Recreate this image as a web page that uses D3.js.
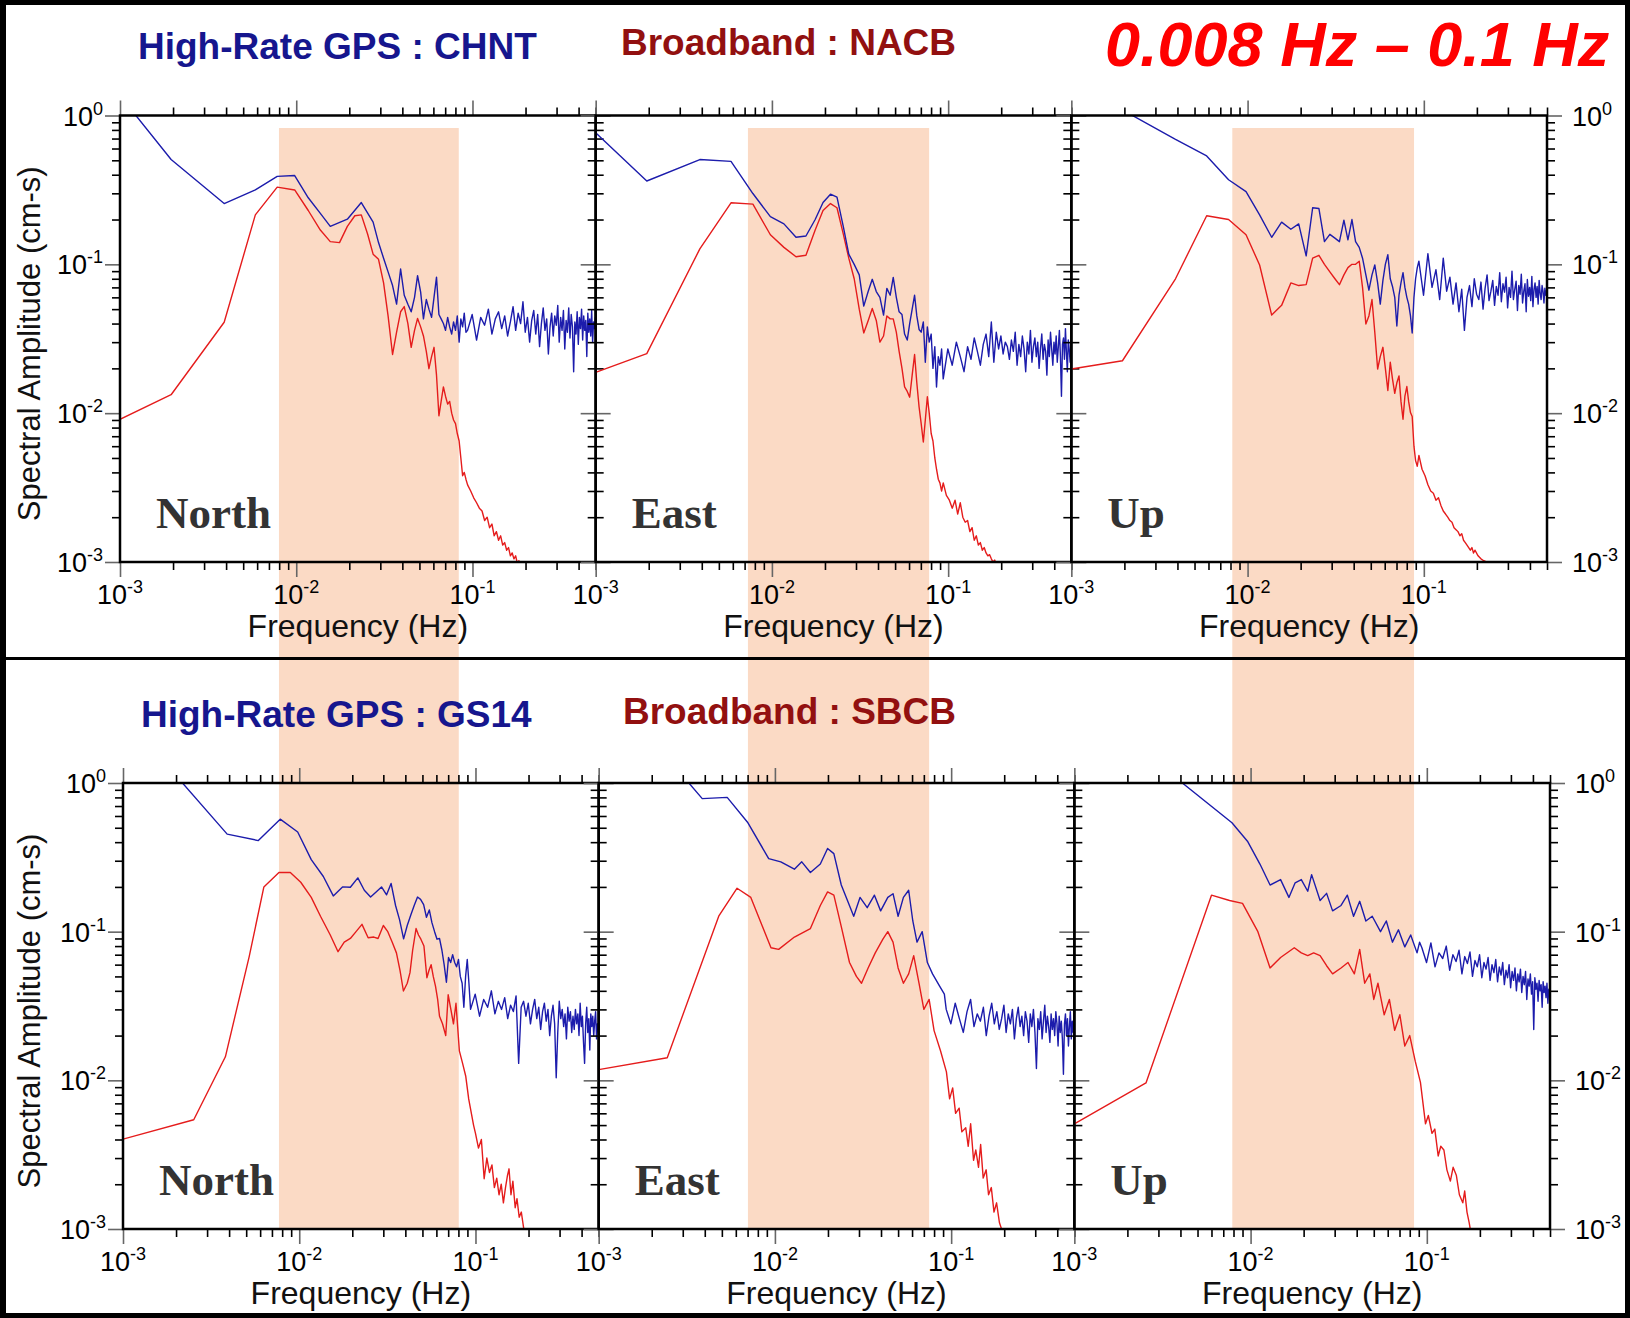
<!DOCTYPE html>
<html>
<head>
<meta charset="utf-8">
<script src="https://cdn.jsdelivr.net/npm/d3@7"></script>
<style>
  body { margin: 0; background: #000; }
  text { font-family: "Liberation Sans", Arial, Helvetica, sans-serif; }
</style>
</head>
<body>
<svg id="chart" width="1630" height="1318"></svg>
<script>
// ---- data (frequency Hz, spectral amplitude cm-s) ----
const components = ['North', 'East', 'Up'];
const gpsStations = ['High-Rate GPS : CHNT', 'High-Rate GPS : GS14'];
const bbStations = ['Broadband : NACB', 'Broadband : SBCB'];
const bandLabel = '0.008 Hz \u2013 0.1 Hz';
// shaded pass band per column (Hz)
const bandEdges = [[0.00798, 0.0836], [0.00731, 0.078], [0.00819, 0.088]];
const xMajor = [0.001, 0.01, 0.1];
const yMajor = [1, 0.1, 0.01, 0.001];

// top row: CHNT (GPS) / NACB (broadband)
const gpsNorthTop = [[0.001,1.36],[0.00195,0.506],[0.0039,0.256],[0.00586,0.316],[0.0078,0.390],[0.0098,0.395],[0.0117,0.28],[0.0137,0.22],[0.0156,0.180],[0.0195,0.201],[0.0234,0.260],[0.0273,0.192],[0.0293,0.14],[0.0313,0.110],[0.0332,0.089],[0.0352,0.072],[0.0371,0.054],[0.0391,0.093],[0.041,0.062],[0.043,0.054],[0.0449,0.048],[0.0469,0.060],[0.0488,0.084],[0.0508,0.065],[0.0527,0.043],[0.0547,0.058],[0.0566,0.050],[0.0586,0.044],[0.0605,0.060],[0.0625,0.082],[0.0645,0.046],[0.0664,0.043],[0.0684,0.040],[0.0703,0.036],[0.0723,0.044],[0.0742,0.038],[0.0762,0.034],[0.0781,0.041],[0.0801,0.036],[0.082,0.045],[0.084,0.030],[0.0859,0.043],[0.0879,0.038],[0.0898,0.047],[0.0918,0.035]];
const bbNorthTop = [[0.001,0.0091],[0.00195,0.0133],[0.0039,0.0408],[0.00586,0.215],[0.0078,0.330],[0.0098,0.316],[0.0117,0.23],[0.0137,0.17],[0.0156,0.142],[0.0176,0.14],[0.0195,0.18],[0.0215,0.212],[0.0234,0.215],[0.0254,0.16],[0.0273,0.117],[0.0293,0.108],[0.0313,0.075],[0.0332,0.045],[0.0352,0.0248],[0.0371,0.035],[0.0391,0.048],[0.041,0.052],[0.043,0.040],[0.0449,0.0277],[0.0469,0.036],[0.0488,0.0433],[0.0508,0.038],[0.0527,0.033],[0.0547,0.026],[0.0566,0.0199],[0.0586,0.024],[0.0605,0.0277],[0.0625,0.018],[0.0645,0.0096],[0.0664,0.012],[0.0684,0.0150],[0.0703,0.013],[0.0723,0.0115],[0.0742,0.0120],[0.0762,0.0100],[0.0781,0.0090],[0.0801,0.0085],[0.082,0.0073],[0.084,0.0065],[0.0859,0.0050],[0.0879,0.0038],[0.0898,0.0040],[0.0918,0.0036],[0.0938,0.0033],[0.0977,0.0030],[0.1016,0.0027],[0.1055,0.0025],[0.1094,0.0023],[0.1133,0.0022],[0.1172,0.0019],[0.1211,0.0020],[0.125,0.0017],[0.1289,0.0018],[0.1328,0.0015],[0.1367,0.0016],[0.1406,0.0014],[0.1445,0.0015],[0.1484,0.0013],[0.1523,0.00135],[0.1563,0.0012],[0.1602,0.00125],[0.1641,0.0011],[0.168,0.00115],[0.1719,0.00105],[0.1758,0.0011],[0.1797,0.00098],[0.1836,0.00102],[0.1875,0.00095],[0.1953,0.00088]];
const gpsEastTop = [[0.001,0.767],[0.00195,0.363],[0.0039,0.506],[0.00586,0.492],[0.0078,0.299],[0.0098,0.209],[0.0117,0.187],[0.0137,0.152],[0.0156,0.155],[0.0176,0.20],[0.0195,0.26],[0.0215,0.296],[0.0234,0.283],[0.0254,0.18],[0.0273,0.117],[0.0293,0.100],[0.0313,0.085],[0.0332,0.0524],[0.0352,0.066],[0.0371,0.0793],[0.0391,0.0656],[0.041,0.060],[0.043,0.0456],[0.0449,0.0689],[0.0469,0.062],[0.0488,0.0817],[0.0508,0.060],[0.0527,0.048],[0.0547,0.046],[0.0566,0.034],[0.0586,0.031],[0.0605,0.040],[0.0625,0.050],[0.0645,0.062],[0.0664,0.045],[0.0684,0.0365],[0.0703,0.035],[0.0723,0.041],[0.0742,0.022],[0.0762,0.038],[0.0781,0.030],[0.0801,0.034],[0.082,0.020],[0.084,0.028],[0.0859,0.015],[0.0879,0.024],[0.0898,0.021],[0.0918,0.027]];
const bbEastTop = [[0.001,0.0188],[0.00195,0.0251],[0.0039,0.127],[0.00586,0.259],[0.0078,0.254],[0.0098,0.158],[0.0117,0.13],[0.0137,0.1125],[0.0156,0.115],[0.0176,0.17],[0.0195,0.23],[0.0215,0.256],[0.0234,0.24],[0.0254,0.16],[0.0273,0.110],[0.0293,0.080],[0.0313,0.050],[0.0332,0.0346],[0.0352,0.042],[0.0371,0.0505],[0.0391,0.042],[0.041,0.030],[0.043,0.033],[0.0449,0.045],[0.0469,0.043],[0.0488,0.043],[0.0508,0.035],[0.0527,0.026],[0.0547,0.020],[0.0566,0.0150],[0.0586,0.014],[0.0605,0.0128],[0.0625,0.018],[0.0645,0.0248],[0.0664,0.016],[0.0684,0.011],[0.0703,0.0085],[0.0723,0.0064],[0.0742,0.0090],[0.0762,0.0129],[0.0781,0.0100],[0.0801,0.0073],[0.082,0.0065],[0.084,0.0050],[0.0859,0.0042],[0.0879,0.0036],[0.0898,0.0034],[0.0918,0.0030],[0.0938,0.0034],[0.0977,0.0028],[0.1016,0.0026],[0.1055,0.0023],[0.1094,0.0026],[0.1133,0.0021],[0.1172,0.0025],[0.1211,0.0020],[0.125,0.00185],[0.1289,0.0019],[0.1328,0.0016],[0.1367,0.0017],[0.1406,0.0014],[0.1445,0.0015],[0.1484,0.0013],[0.1523,0.00135],[0.1563,0.0012],[0.1602,0.00125],[0.1641,0.00115],[0.168,0.0011],[0.1719,0.00112],[0.1758,0.00105],[0.1797,0.0010],[0.1836,0.00103],[0.1875,0.00097],[0.1953,0.00092]];
const gpsUpTop = [[0.001,1.5],[0.00195,1.09],[0.0039,0.69],[0.00586,0.535],[0.0078,0.37],[0.0098,0.308],[0.0117,0.215],[0.0137,0.152],[0.0156,0.192],[0.0176,0.172],[0.0195,0.187],[0.0215,0.114],[0.0234,0.24],[0.0254,0.237],[0.0273,0.142],[0.0293,0.159],[0.0313,0.150],[0.0332,0.142],[0.0352,0.198],[0.0371,0.146],[0.0391,0.20],[0.041,0.142],[0.043,0.13],[0.0449,0.11],[0.0469,0.085],[0.0488,0.067],[0.0508,0.085],[0.0527,0.099],[0.0547,0.075],[0.0566,0.054],[0.0586,0.078],[0.0605,0.100],[0.0625,0.116],[0.0645,0.080],[0.0664,0.071],[0.0684,0.060],[0.0703,0.0385],[0.0723,0.062],[0.0742,0.075],[0.0762,0.088],[0.0781,0.070],[0.0801,0.060],[0.082,0.054],[0.084,0.045],[0.0859,0.0346],[0.0879,0.060],[0.0898,0.080],[0.0918,0.095]];
const bbUpTop = [[0.001,0.0198],[0.00195,0.0225],[0.0039,0.080],[0.00586,0.212],[0.0078,0.20],[0.0098,0.158],[0.0117,0.099],[0.0137,0.0456],[0.0156,0.053],[0.0176,0.075],[0.0195,0.072],[0.0215,0.073],[0.0234,0.110],[0.0254,0.115],[0.0273,0.100],[0.0293,0.089],[0.0313,0.080],[0.0332,0.073],[0.0352,0.085],[0.0371,0.095],[0.0391,0.100],[0.041,0.100],[0.043,0.105],[0.0449,0.070],[0.0469,0.0397],[0.0488,0.045],[0.0508,0.058],[0.0527,0.035],[0.0547,0.0198],[0.0566,0.024],[0.0586,0.0277],[0.0605,0.020],[0.0625,0.0142],[0.0645,0.022],[0.0664,0.017],[0.0684,0.0136],[0.0703,0.0160],[0.0723,0.0178],[0.0742,0.012],[0.0762,0.0091],[0.0781,0.0130],[0.0801,0.0151],[0.082,0.012],[0.084,0.0101],[0.0859,0.0095],[0.0879,0.0060],[0.0898,0.0048],[0.0918,0.0044],[0.0938,0.0052],[0.0977,0.0042],[0.1016,0.0038],[0.1055,0.0033],[0.1094,0.0030],[0.1133,0.0029],[0.1172,0.0026],[0.1211,0.0027],[0.125,0.0024],[0.1289,0.0022],[0.1328,0.0021],[0.1367,0.0020],[0.1406,0.0019],[0.1445,0.00185],[0.1484,0.0017],[0.1523,0.00165],[0.1563,0.0016],[0.1602,0.0015],[0.1641,0.00155],[0.168,0.0014],[0.1719,0.00135],[0.1758,0.0013],[0.1797,0.00125],[0.1836,0.0012],[0.1875,0.00125],[0.1914,0.00115],[0.1953,0.0012],[0.2031,0.0011],[0.2109,0.00105],[0.2188,0.00102],[0.2266,0.0010],[0.2344,0.00097]];

// bottom row: GS14 (GPS) / SBCB (broadband)
const gpsNorthBot = [[0.001,2.2],[0.00195,1.16],[0.0039,0.453],[0.00586,0.41],[0.0078,0.571],[0.0098,0.468],[0.0117,0.305],[0.0137,0.235],[0.0156,0.174],[0.0176,0.20],[0.0195,0.199],[0.0215,0.23],[0.0234,0.19],[0.0254,0.171],[0.0273,0.185],[0.0293,0.20],[0.0313,0.177],[0.0332,0.211],[0.0352,0.150],[0.0371,0.12],[0.0391,0.0894],[0.041,0.11],[0.043,0.13],[0.0449,0.150],[0.0469,0.171],[0.0488,0.165],[0.0508,0.152],[0.0527,0.125],[0.0547,0.14],[0.0566,0.115],[0.0586,0.10],[0.0605,0.089],[0.0625,0.090],[0.0645,0.075],[0.0664,0.060],[0.0684,0.0457],[0.0703,0.067],[0.0723,0.062],[0.0742,0.070],[0.0762,0.062],[0.0781,0.058],[0.0801,0.065],[0.082,0.050],[0.084,0.045],[0.0859,0.031],[0.0879,0.050],[0.0898,0.065],[0.0918,0.045]];
const bbNorthBot = [[0.001,0.00402],[0.00252,0.00543],[0.00381,0.0144],[0.0052,0.068],[0.0063,0.20],[0.00767,0.25],[0.0089,0.25],[0.0102,0.215],[0.0117,0.17],[0.0132,0.127],[0.015,0.095],[0.0166,0.0733],[0.018,0.085],[0.0195,0.09],[0.021,0.10],[0.0227,0.112],[0.0246,0.091],[0.0265,0.092],[0.028,0.09],[0.030,0.11],[0.0318,0.10],[0.0337,0.085],[0.0356,0.072],[0.0373,0.055],[0.039,0.0399],[0.041,0.045],[0.0425,0.053],[0.044,0.075],[0.046,0.105],[0.0475,0.095],[0.049,0.089],[0.051,0.080],[0.053,0.049],[0.0545,0.055],[0.056,0.06],[0.0576,0.050],[0.0593,0.043],[0.061,0.035],[0.0625,0.027],[0.065,0.024],[0.0678,0.020],[0.07,0.0376],[0.0725,0.030],[0.075,0.024],[0.0775,0.033],[0.081,0.0158],[0.0845,0.013],[0.088,0.0107],[0.0915,0.0075],[0.095,0.0059],[0.0975,0.0050],[0.10,0.0044],[0.104,0.0035],[0.108,0.0040],[0.112,0.00218],[0.116,0.0030],[0.12,0.0024],[0.124,0.0027],[0.128,0.0019],[0.132,0.0022],[0.136,0.0017],[0.14,0.0020],[0.144,0.0015],[0.148,0.0019],[0.152,0.0023],[0.155,0.00254],[0.159,0.0017],[0.163,0.0021],[0.168,0.00139],[0.172,0.0016],[0.177,0.0012],[0.182,0.0013],[0.188,0.0010],[0.195,0.00085]];
const gpsEastBot = [[0.001,2.5],[0.00325,1.0],[0.00387,0.785],[0.00536,0.80],[0.00703,0.54],[0.00922,0.31],[0.0108,0.295],[0.0129,0.263],[0.0142,0.295],[0.0159,0.25],[0.0181,0.285],[0.0199,0.363],[0.0216,0.335],[0.0238,0.206],[0.0258,0.162],[0.028,0.127],[0.0304,0.17],[0.0334,0.145],[0.0367,0.176],[0.0398,0.138],[0.0437,0.17],[0.0468,0.18],[0.050,0.127],[0.0536,0.17],[0.0574,0.19],[0.0606,0.118],[0.064,0.085],[0.0685,0.10],[0.0733,0.062],[0.0784,0.052],[0.086,0.043],[0.0915,0.038]];
const bbEastBot = [[0.001,0.0118],[0.00245,0.0142],[0.0048,0.127],[0.0061,0.196],[0.0073,0.17],[0.0095,0.078],[0.0105,0.076],[0.0129,0.092],[0.0159,0.105],[0.0181,0.15],[0.0199,0.185],[0.0216,0.176],[0.0238,0.108],[0.0265,0.062],[0.029,0.050],[0.031,0.045],[0.0338,0.057],[0.0371,0.072],[0.041,0.089],[0.0437,0.10],[0.0468,0.085],[0.050,0.057],[0.0536,0.045],[0.0574,0.052],[0.0613,0.069],[0.0657,0.045],[0.070,0.030],[0.075,0.035],[0.080,0.0216],[0.087,0.0158],[0.094,0.0114],[0.098,0.0075],[0.102,0.0089],[0.106,0.0060],[0.111,0.0065],[0.115,0.0045],[0.121,0.0048],[0.125,0.0036],[0.129,0.0051],[0.134,0.0029],[0.138,0.0034],[0.143,0.0026],[0.147,0.0037],[0.152,0.0022],[0.158,0.0025],[0.163,0.0017],[0.169,0.0019],[0.175,0.0013],[0.181,0.0015],[0.188,0.0011],[0.196,0.00095]];
const gpsUpBot = [[0.001,3.0],[0.00248,1.6],[0.0041,1.0],[0.00784,0.54],[0.0096,0.406],[0.0113,0.285],[0.0129,0.206],[0.0148,0.224],[0.0165,0.17],[0.0179,0.213],[0.0194,0.224],[0.0211,0.187],[0.0222,0.242],[0.0248,0.162],[0.027,0.181],[0.0292,0.138],[0.0326,0.15],[0.0354,0.176],[0.0384,0.127],[0.0416,0.16],[0.0451,0.118],[0.049,0.127],[0.0546,0.10],[0.0589,0.118],[0.0638,0.085],[0.069,0.103],[0.075,0.079],[0.081,0.095],[0.088,0.072],[0.091,0.085]];
const bbUpBot = [[0.001,0.0051],[0.00255,0.0096],[0.006,0.176],[0.0076,0.162],[0.009,0.155],[0.011,0.10],[0.0129,0.057],[0.0148,0.067],[0.0177,0.078],[0.0194,0.072],[0.0211,0.069],[0.0228,0.072],[0.0248,0.069],[0.027,0.059],[0.0292,0.052],[0.0326,0.057],[0.0357,0.062],[0.0388,0.052],[0.0416,0.076],[0.0444,0.045],[0.0475,0.052],[0.05,0.035],[0.0528,0.045],[0.0573,0.0276],[0.0613,0.035],[0.0657,0.0217],[0.0703,0.0276],[0.075,0.0170],[0.080,0.0200],[0.086,0.0134],[0.092,0.0097],[0.0983,0.0051],[0.102,0.0058],[0.107,0.0044],[0.111,0.0047],[0.116,0.0031],[0.12,0.0036],[0.125,0.0034],[0.13,0.0025],[0.136,0.0021],[0.141,0.0026],[0.147,0.0023],[0.153,0.0017],[0.160,0.0015],[0.164,0.0018],[0.169,0.0013],[0.174,0.0011],[0.179,0.0009]];

// noisy GPS floor above ~0.09 Hz: amplitude at every third FFT bin, starting at bin 48 (bin width 1/512 Hz)
const DF = 1 / 512, TAIL_BIN0 = 48, TAIL_STEP = 3;
const gpsNorthTopTail = [0.036,0.046,0.031,0.044,0.039,0.050,0.034,0.043,0.048,0.037,0.045,0.033,0.041,0.052,0.036,0.047,0.040,0.056,0.035,0.044,0.030,0.042,0.049,0.034,0.046,0.028,0.040,0.051,0.036,0.043,0.025,0.038,0.047,0.033,0.045,0.039,0.053,0.030,0.044,0.036,0.049,0.027,0.042,0.035,0.051,0.032,0.046,0.038,0.019,0.041,0.034,0.048,0.029,0.044,0.037,0.050,0.031,0.045,0.036,0.042,0.024,0.047,0.035,0.043,0.033,0.049,0.030,0.041,0.037,0.044];
const gpsEastTopTail = [0.017,0.027,0.021,0.030,0.024,0.019,0.028,0.023,0.032,0.026,0.021,0.029,0.034,0.024,0.041,0.022,0.035,0.027,0.033,0.025,0.030,0.028,0.023,0.031,0.026,0.035,0.021,0.029,0.024,0.033,0.027,0.019,0.030,0.025,0.036,0.022,0.028,0.032,0.024,0.030,0.020,0.027,0.034,0.023,0.029,0.026,0.018,0.031,0.024,0.035,0.027,0.021,0.030,0.025,0.033,0.022,0.028,0.036,0.024,0.013,0.029,0.032,0.023,0.037,0.026,0.019,0.031,0.027,0.022,0.028];
const gpsUpTopTail = [0.105,0.062,0.118,0.070,0.092,0.058,0.110,0.066,0.082,0.054,0.075,0.048,0.068,0.036,0.060,0.072,0.052,0.080,0.063,0.058,0.076,0.050,0.069,0.085,0.057,0.066,0.078,0.053,0.071,0.062,0.088,0.056,0.074,0.065,0.082,0.051,0.070,0.060,0.090,0.058,0.068,0.077,0.049,0.072,0.063,0.086,0.055,0.066,0.074,0.048,0.079,0.061,0.070,0.057,0.083,0.052,0.068,0.075,0.060,0.071,0.054,0.078,0.064,0.058,0.072,0.066,0.055,0.069,0.062,0.067];
const gpsNorthBotTail = [0.030,0.038,0.027,0.035,0.031,0.040,0.028,0.034,0.030,0.036,0.026,0.032,0.029,0.037,0.013,0.031,0.034,0.027,0.033,0.024,0.030,0.035,0.026,0.031,0.022,0.029,0.033,0.025,0.030,0.020,0.027,0.032,0.024,0.0104,0.021,0.034,0.026,0.030,0.023,0.028,0.019,0.031,0.025,0.029,0.021,0.027,0.022,0.030,0.024,0.028,0.020,0.033,0.023,0.027,0.018,0.013,0.024,0.031,0.021,0.026,0.016,0.028,0.023,0.027,0.020,0.025,0.029,0.019,0.024,0.021];
const gpsEastBotTail = [0.030,0.024,0.033,0.026,0.021,0.029,0.035,0.023,0.028,0.025,0.031,0.020,0.027,0.033,0.024,0.029,0.022,0.026,0.032,0.021,0.028,0.024,0.030,0.019,0.026,0.031,0.023,0.027,0.020,0.029,0.025,0.018,0.028,0.023,0.030,0.021,0.012,0.026,0.022,0.029,0.019,0.025,0.032,0.021,0.027,0.023,0.018,0.028,0.022,0.026,0.020,0.029,0.024,0.017,0.027,0.021,0.025,0.019,0.011,0.024,0.028,0.020,0.026,0.017,0.023,0.029,0.019,0.025,0.021,0.024];
const gpsUpBotTail = [0.078,0.062,0.084,0.058,0.072,0.066,0.080,0.055,0.070,0.063,0.075,0.052,0.068,0.061,0.073,0.050,0.064,0.058,0.070,0.049,0.062,0.056,0.067,0.047,0.060,0.053,0.065,0.046,0.058,0.051,0.062,0.044,0.055,0.049,0.060,0.042,0.054,0.047,0.057,0.040,0.052,0.046,0.056,0.039,0.050,0.044,0.054,0.035,0.048,0.043,0.052,0.038,0.046,0.022,0.049,0.041,0.045,0.034,0.047,0.040,0.044,0.031,0.046,0.039,0.043,0.036,0.045,0.033,0.041,0.038];

const gpsSeries = [[gpsNorthTop, gpsEastTop, gpsUpTop], [gpsNorthBot, gpsEastBot, gpsUpBot]];
const gpsTails = [[gpsNorthTopTail, gpsEastTopTail, gpsUpTopTail], [gpsNorthBotTail, gpsEastBotTail, gpsUpBotTail]];
const bbSeries = [[bbNorthTop, bbEastTop, bbUpTop], [bbNorthBot, bbEastBot, bbUpBot]];

// ---- layout ----
const PW = 475.67;
const rows = [
    { left: 120, top: 115.5, bottom: 562 },
    { left: 123, top: 783, bottom: 1229 }
];
const BLUE = '#1c1cac', RED = '#e51c1c';

const svg = d3.select('#chart');
svg.append('rect').attr('width', 1630).attr('height', 1318).attr('fill', '#000');
svg.append('rect').attr('x', 6).attr('y', 5).attr('width', 1619).attr('height', 1308).attr('fill', '#fff');

function xScaleFor(r, c) {
    const L = rows[r].left + c * PW;
    return d3.scaleLog().domain([0.001, 0.5]).range([L, L + PW]);
}
function yScaleFor(r) {
    return d3.scaleLog().domain([0.001, 1]).range([rows[r].bottom, rows[r].top]);
}

// minor ticks 2..9 per decade
const xMinor = [], yMinor = [];
[0.001, 0.01, 0.1].forEach(d => {
    for (let m = 2; m <= 9; m++) {
        if (d * m <= 0.5) xMinor.push(d * m);
        yMinor.push(d * m);
    }
});

// shaded pass bands run through both rows
bandEdges.forEach((b, c) => {
    const x = xScaleFor(0, c);
    svg.append('rect')
        .attr('x', x(b[0])).attr('y', 128)
        .attr('width', x(b[1]) - x(b[0]))
        .attr('height', rows[1].bottom - 128)
        .attr('fill', '#fbdac5');
});

svg.append('line').attr('x1', 6).attr('x2', 1625).attr('y1', 658.5).attr('y2', 658.5)
    .attr('stroke', '#000').attr('stroke-width', 3);

const defs = svg.append('defs');

function styleAxis(sel, color, width) {
    sel.select('.domain').remove();
    sel.selectAll('.tick line').attr('stroke', color).attr('stroke-width', width);
}

function addTicks(g, axisFn, scale, translate, vertical) {
    g.append('g').attr('transform', translate)
        .call(axisFn(scale).tickValues(vertical ? yMinor : xMinor).tickSize(8).tickFormat(''))
        .call(s => styleAxis(s, '#000', 1.6));
    g.append('g').attr('transform', translate)
        .call(axisFn(scale).tickValues(vertical ? yMajor : xMajor).tickSize(15).tickFormat(''))
        .call(s => styleAxis(s, '#666', 1.6));
}

function powLabel(g, x, y, exp, anchor) {
    const t = g.append('text').attr('x', x).attr('y', y)
        .attr('text-anchor', anchor).attr('font-size', 27).attr('fill', '#000');
    t.append('tspan').text('10');
    t.append('tspan').attr('dy', -11).attr('font-size', 18).text(exp);
}

rows.forEach((row, r) => {
    const y = yScaleFor(r);
    components.forEach((comp, c) => {
        const x = xScaleFor(r, c);
        const [x0, x1] = x.range();
        const g = svg.append('g');

        const clipId = `clip-${r}-${c}`;
        defs.append('clipPath').attr('id', clipId).append('rect')
            .attr('x', x0).attr('y', row.top).attr('width', x1 - x0).attr('height', row.bottom - row.top);

        addTicks(g, d3.axisBottom, x, `translate(0,${row.bottom})`, false);
        addTicks(g, d3.axisTop, x, `translate(0,${row.top})`, false);
        addTicks(g, d3.axisLeft, y, `translate(${x0},0)`, true);
        addTicks(g, d3.axisRight, y, `translate(${x1},0)`, true);

        const line = d3.line().x(d => x(d[0])).y(d => y(d[1]));

        const tail = gpsTails[r][c].map((a, i) => [(TAIL_BIN0 + TAIL_STEP * i) * DF, a]);
        const gps = gpsSeries[r][c].concat(tail).sort((a, b) => a[0] - b[0]);
        const lines = g.append('g').attr('clip-path', `url(#${clipId})`);
        lines.append('path').datum(bbSeries[r][c])
            .attr('d', line).attr('fill', 'none').attr('stroke', RED).attr('stroke-width', 1.4)
            .attr('stroke-linejoin', 'round');
        lines.append('path').datum(gps)
            .attr('d', line).attr('fill', 'none').attr('stroke', BLUE).attr('stroke-width', 1.4)
            .attr('stroke-linejoin', 'round');

        g.append('rect').attr('x', x0).attr('y', row.top)
            .attr('width', x1 - x0).attr('height', row.bottom - row.top)
            .attr('fill', 'none').attr('stroke', '#000').attr('stroke-width', 2.5);

        // x tick labels
        xMajor.forEach((v, i) => powLabel(g, x(v), row.bottom + 42, ['-3', '-2', '-1'][i], 'middle'));

        g.append('text').attr('x', (x0 + x1) / 2).attr('y', row.bottom + 75)
            .attr('text-anchor', 'middle').attr('font-size', 32).attr('fill', '#111')
            .text('Frequency (Hz)');

        g.append('text').attr('x', x0 + 36).attr('y', row.bottom - 34)
            .style('font-family', '"Liberation Serif", "Times New Roman", serif')
            .attr('font-weight', 'bold').attr('font-size', 45).attr('fill', '#333')
            .text(comp);

        if (c === 0) {
            yMajor.forEach((v, i) => powLabel(g, x0 - 17, y(v) + 10, ['0', '-1', '-2', '-3'][i], 'end'));
            const cy = (row.top + row.bottom) / 2 + 5;
            g.append('text').attr('transform', `translate(40,${cy}) rotate(-90)`)
                .attr('text-anchor', 'middle').attr('font-size', 31).attr('fill', '#111')
                .text('Spectral Amplitude (cm-s)');
        }
        if (c === 2) {
            yMajor.forEach((v, i) => powLabel(g, x1 + 25, y(v) + 10, ['0', '-1', '-2', '-3'][i], 'start'));
        }
    });
});

// station titles
const titleY = [[59, 55], [727, 723.5]];
const titleX = [[138, 621], [141, 623]];
[0, 1].forEach(r => {
    svg.append('text').attr('x', titleX[r][0]).attr('y', titleY[r][0])
        .attr('font-size', 37).attr('font-weight', 'bold').attr('fill', '#16168e')
        .text(gpsStations[r]);
    svg.append('text').attr('x', titleX[r][1]).attr('y', titleY[r][1])
        .attr('font-size', 37).attr('font-weight', 'bold').attr('fill', '#921010')
        .text(bbStations[r]);
});

svg.append('text').attr('x', 1105).attr('y', 66)
    .attr('font-size', 63).attr('font-weight', 'bold').attr('font-style', 'italic')
    .attr('fill', '#ff0000').text(bandLabel);
</script>
</body>
</html>
